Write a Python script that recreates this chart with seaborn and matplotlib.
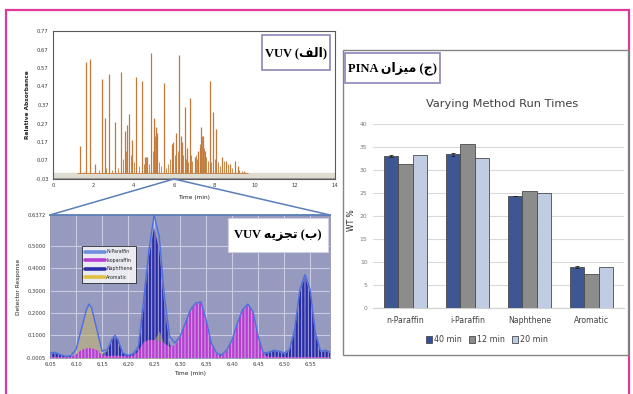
import numpy as np
import pandas as pd
import seaborn as sns
import matplotlib
matplotlib.use("Agg")
import matplotlib.pyplot as plt
from matplotlib.patches import Rectangle, ConnectionPatch
from matplotlib.lines import Line2D

sns.set_style("white")
plt.rcParams["font.family"] = ["DejaVu Sans"]
plt.rcParams["hatch.linewidth"] = 0.7

# ---------------- Panel A: VUV chromatogram (peak apex times / heights) ----
peak_time = [1.32, 1.66, 1.82, 2.10, 2.43, 2.57, 2.78, 3.10, 3.39, 3.56, 3.66,
             3.77, 3.92, 4.12, 4.42, 4.57, 4.69, 4.88, 5.01, 5.10, 5.18, 5.50,
             5.89, 5.98, 6.13, 6.26, 6.33, 6.42, 6.54, 6.66, 6.79, 7.04, 7.20,
             7.28, 7.37, 7.47, 7.57, 7.78, 7.96, 8.11, 8.41, 8.61, 8.77, 9.04,
             9.17, 9.50]
peak_height = [0.15, 0.60, 0.62, 0.05, 0.51, 0.30, 0.54, 0.28, 0.55, 0.23, 0.26,
               0.32, 0.18, 0.52, 0.50, 0.09, 0.09, 0.65, 0.30, 0.25, 0.22, 0.49,
               0.16, 0.17, 0.22, 0.64, 0.20, 0.17, 0.36, 0.14, 0.41, 0.09, 0.12,
               0.14, 0.25, 0.20, 0.12, 0.50, 0.33, 0.24, 0.09, 0.07, 0.05, 0.07,
               0.04, 0.015]
minor_time = [1.55, 2.30, 2.65, 2.95, 3.25, 3.48, 3.62, 3.85, 4.02, 4.25, 4.52,
              4.62, 4.75, 4.95, 5.05, 5.25, 5.35, 5.62, 5.72, 5.80, 5.93, 6.05,
              6.20, 6.38, 6.47, 6.60, 6.72, 6.85, 6.92, 7.10, 7.15, 7.32, 7.42,
              7.52, 7.62, 7.70, 7.85, 8.02, 8.20, 8.30, 8.50, 8.70, 8.90, 9.25,
              9.40]
minor_height = [0.01, 0.02, 0.03, 0.02, 0.03, 0.08, 0.12, 0.10, 0.06, 0.04, 0.05,
                0.09, 0.05, 0.12, 0.20, 0.06, 0.04, 0.03, 0.05, 0.08, 0.12, 0.10,
                0.12, 0.14, 0.10, 0.08, 0.06, 0.10, 0.07, 0.10, 0.08, 0.16, 0.20,
                0.14, 0.09, 0.07, 0.06, 0.08, 0.06, 0.04, 0.07, 0.05, 0.03, 0.02,
                0.015]
a_yticks = [-0.03, 0.07, 0.17, 0.27, 0.37, 0.47, 0.57, 0.67, 0.77]
a_xticks = [0, 2, 4, 6, 8, 10, 12, 14]

# ---------------- Panel B: deconvolution (envelope + components) ----------
b_time = [6.050, 6.060, 6.070, 6.080, 6.090, 6.100, 6.110, 6.120, 6.125, 6.130,
          6.140, 6.150, 6.160, 6.170, 6.175, 6.180, 6.190, 6.200, 6.210, 6.220,
          6.230, 6.240, 6.250, 6.260, 6.270, 6.280, 6.290, 6.300, 6.310, 6.320,
          6.330, 6.340, 6.350, 6.360, 6.370, 6.380, 6.390, 6.400, 6.410, 6.420,
          6.430, 6.440, 6.450, 6.460, 6.470, 6.480, 6.490, 6.500, 6.510, 6.520,
          6.530, 6.540, 6.550, 6.560, 6.570, 6.580, 6.588]
b_envelope = [0.022, 0.025, 0.014, 0.007, 0.010, 0.037, 0.126, 0.215, 0.240, 0.222,
              0.126, 0.030, 0.037, 0.088, 0.100, 0.084, 0.022, 0.011, 0.019, 0.051,
              0.260, 0.480, 0.637, 0.540, 0.270, 0.096, 0.066, 0.096, 0.155, 0.215,
              0.245, 0.250, 0.170, 0.066, 0.022, 0.013, 0.037, 0.081, 0.155, 0.215,
              0.240, 0.207, 0.096, 0.022, 0.025, 0.034, 0.030, 0.022, 0.037, 0.126,
              0.304, 0.372, 0.304, 0.111, 0.030, 0.034, 0.025]
b_naphthene = [0.018, 0.020, 0.012, 0.006, 0.008, 0.010, 0.010, 0.010, 0.010, 0.010,
               0.010, 0.015, 0.030, 0.080, 0.095, 0.078, 0.018, 0.010, 0.015, 0.040,
               0.220, 0.450, 0.580, 0.480, 0.220, 0.060, 0.020, 0.020, 0.020, 0.020,
               0.020, 0.020, 0.020, 0.020, 0.015, 0.010, 0.015, 0.020, 0.020, 0.020,
               0.020, 0.020, 0.020, 0.018, 0.022, 0.030, 0.026, 0.018, 0.030, 0.110,
               0.290, 0.360, 0.290, 0.100, 0.026, 0.030, 0.022]
b_isoparaffin = [0.004, 0.004, 0.004, 0.003, 0.004, 0.015, 0.035, 0.042, 0.044, 0.042,
                 0.035, 0.012, 0.008, 0.010, 0.010, 0.010, 0.008, 0.006, 0.010, 0.030,
                 0.070, 0.080, 0.080, 0.075, 0.065, 0.050, 0.055, 0.090, 0.150, 0.210,
                 0.240, 0.245, 0.165, 0.060, 0.015, 0.008, 0.030, 0.075, 0.150, 0.210,
                 0.235, 0.200, 0.090, 0.015, 0.005, 0.005, 0.005, 0.004, 0.004, 0.004,
                 0.004, 0.004, 0.004, 0.004, 0.004, 0.004, 0.004]
b_aromatic = [0.000, 0.000, 0.000, 0.000, 0.000, 0.030, 0.120, 0.210, 0.235, 0.220,
              0.120, 0.020, 0.000, 0.000, 0.000, 0.000, 0.000, 0.000, 0.000, 0.000,
              0.010, 0.040, 0.080, 0.120, 0.050, 0.010, 0.000, 0.000, 0.000, 0.000,
              0.000, 0.000, 0.000, 0.000, 0.000, 0.000, 0.000, 0.000, 0.000, 0.000,
              0.000, 0.000, 0.000, 0.000, 0.000, 0.000, 0.000, 0.000, 0.000, 0.000,
              0.000, 0.000, 0.000, 0.000, 0.000, 0.000, 0.000]
b_yticks = [-0.0005, 0.1, 0.2, 0.3, 0.4, 0.5, 0.6372]
b_ytick_labels = ["-0.0005", "0.1000", "0.2000", "0.3000", "0.4000", "0.5000", "0.6372"]
b_xticks = [6.05, 6.10, 6.15, 6.20, 6.25, 6.30, 6.35, 6.40, 6.45, 6.50, 6.55]
b_legend = ["N-Paraffin", "Isoparaffin", "Naphthene", "Aromatic"]

# ---------------- Panel C: PINA by run time --------------------------------
components = ["n-Paraffin", "i-Paraffin", "Naphthene", "Aromatic"]
runs = ["40 min", "12 min", "20 min"]
wt_40 = [33.1, 33.4, 24.4, 8.9]
wt_12 = [31.4, 35.6, 25.4, 7.3]
wt_20 = [33.2, 32.7, 25.0, 9.0]
err_40 = [0.25, 0.3, 0.0, 0.2]

# ---------------- Persian labels (logical order) ---------------------------
label_a = ("VUV", "الف")
label_b = ("VUV", "تجزیه", "ب")
label_c = ("PINA", "میزان", "ج")

FORMS = {  # isolated, final, initial, medial
    "ا": ("\uFE8D", "\uFE8E", None, None),
    "ل": ("\uFEDD", "\uFEDE", "\uFEDF", "\uFEE0"),
    "ف": ("\uFED1", "\uFED2", "\uFED3", "\uFED4"),
    "ب": ("\uFE8F", "\uFE90", "\uFE91", "\uFE92"),
    "ت": ("\uFE95", "\uFE96", "\uFE97", "\uFE98"),
    "ج": ("\uFE9D", "\uFE9E", "\uFE9F", "\uFEA0"),
    "ز": ("\uFEAF", "\uFEB0", None, None),
    "ی": ("\uFEF1", "\uFEF2", "\uFEF3", "\uFEF4"),
    "ه": ("\uFEE9", "\uFEEA", "\uFEEB", "\uFEEC"),
    "م": ("\uFEE1", "\uFEE2", "\uFEE3", "\uFEE4"),
    "ن": ("\uFEE5", "\uFEE6", "\uFEE7", "\uFEE8"),
}


def shape(word):
    """Contextual forms + visual (right-to-left) ordering for display."""
    out = []
    n = len(word)
    for i, ch in enumerate(word):
        f = FORMS[ch]
        prev_j = i > 0 and FORMS[word[i - 1]][2] is not None
        next_j = i < n - 1 and f[2] is not None
        if prev_j and next_j:
            g = f[3]
        elif prev_j:
            g = f[1]
        elif next_j:
            g = f[2]
        else:
            g = f[0]
        out.append(g)
    return "".join(reversed(out))


W, H = 633, 394


def px(l, t, r, b):
    return [l / W, 1 - b / H, (r - l) / W, (b - t) / H]


fig = plt.figure(figsize=(W / 100, H / 100), dpi=100)
fig.patch.set_facecolor("white")

serif_fam = ["Liberation Serif", "DejaVu Sans"]
tick_col = "#3a3a3a"


def label_box(l, t, r, b, text, edge, lw):
    fig.add_artist(Rectangle((l / W, 1 - b / H), (r - l) / W, (b - t) / H,
                             transform=fig.transFigure, facecolor="white",
                             edgecolor=edge, lw=lw, zorder=5))
    fig.text((l + r) / 2 / W, 1 - (t + b) / 2 / H, text, ha="center",
             va="center", fontsize=9, fontweight="bold", family=serif_fam,
             color="black", zorder=6)


# pink outer frame
fig.add_artist(Rectangle((6 / W, -0.05), (629 - 6) / W, 1.05 - 10 / H,
                         transform=fig.transFigure, fill=False,
                         edgecolor="#e0379c", lw=1.6, zorder=0))

# panel C frame
fig.add_artist(Rectangle((343 / W, 1 - 355 / H), (628 - 343) / W, (355 - 50) / H,
                         transform=fig.transFigure, facecolor="white",
                         edgecolor="#858585", lw=1.0, zorder=0))

# ================= Panel A =================
axA = fig.add_axes(px(53, 31, 335, 179))
axA.set_facecolor("white")
axA.axhspan(-0.03, -0.018, color="#8f8f8f", zorder=1)
axA.axhspan(-0.018, 0.005, color="#dedbd0", zorder=1)
axA.hlines(0.002, 1.2, 9.7, color="#c47a3a", lw=0.6, zorder=2)
axA.vlines(minor_time, 0.0, minor_height, color="#c98a4e", lw=0.7, zorder=2)
axA.vlines(peak_time, 0.0, peak_height, color="#c4783a", lw=0.9, zorder=3)
axA.set_xlim(0, 14)
axA.set_ylim(-0.03, 0.77)
axA.set_xticks(a_xticks)
axA.set_xticklabels([str(v) for v in a_xticks])
axA.set_yticks(a_yticks)
axA.set_yticklabels([f"{v:.2f}" for v in a_yticks])
axA.tick_params(labelsize=3.8, colors=tick_col, length=1.5, width=0.5, pad=1.5)
for s in axA.spines.values():
    s.set_color("#5a5a5a")
    s.set_linewidth(0.8)
axA.set_xlabel("Time (min)", fontsize=4.2, labelpad=5, color="#222222")
axA.set_ylabel("Relative Absorbance", fontsize=4.2, labelpad=4, color="#222222",
               fontweight="bold")
label_box(262, 35, 330, 70, f"{label_a[0]} (" + shape(label_a[1]) + ")",
          "#8a88b8", 1.2)

# ================= Panel B =================
axB = fig.add_axes(px(50, 215, 330, 358))
axB.set_facecolor("#979abf")
axB.set_xlim(6.05, 6.588)
axB.set_ylim(-0.0005, 0.6372)
for xv in b_xticks:
    axB.axvline(xv, color="#c9cbe2", lw=0.8, zorder=0)
for yv in b_yticks[1:-1]:
    axB.axhline(yv, color="#c9cbe2", lw=0.8, zorder=0)

c_npar = "#6e8fdc"
c_iso = "#b43fd0"
c_naph = "#2b2da8"
c_arom = "#c8b46e"

axB.fill_between(b_time, -0.0005, b_naphthene, facecolor=c_naph,
                 edgecolor="#a6a8d8", hatch="|||||", lw=0, zorder=2)
axB.fill_between(b_time, -0.0005, b_aromatic, facecolor=c_arom, alpha=0.55,
                 lw=0, zorder=3)
axB.fill_between(b_time, -0.0005, b_isoparaffin, facecolor=c_iso,
                 edgecolor="#d6a2e6", hatch="|||||", lw=0, zorder=4)
sns.lineplot(x=b_time, y=b_envelope, ax=axB, color="#4d6fe0", lw=1.0,
             zorder=5, estimator=None)
axB.set_xticks(b_xticks)
axB.set_xticklabels([f"{v:.2f}" for v in b_xticks])
axB.set_yticks(b_yticks)
axB.set_yticklabels(b_ytick_labels)
axB.tick_params(labelsize=3.8, colors=tick_col, length=1.5, width=0.5, pad=1.5)
for k, s in axB.spines.items():
    s.set_color("#8a8cb0")
    s.set_linewidth(0.6)
axB.spines["top"].set_color("#5b7fb8")
axB.spines["top"].set_linewidth(1.3)
axB.set_xlabel("Time (min)", fontsize=4.2, labelpad=3, color="#222222")
axB.set_ylabel("Detector Response", fontsize=4.2, labelpad=3, color="#222222")
handles = [Line2D([0], [0], color=c, lw=2.6) for c in
           [c_npar, c_iso, c_naph, "#e0c040"]]
legB = axB.legend(handles, b_legend, loc="upper left",
                  bbox_to_anchor=(0.105, 0.80), fontsize=3.4, frameon=True,
                  fancybox=False, handlelength=4.2, handletextpad=0.3,
                  labelspacing=0.75, borderpad=0.7)
legB.get_frame().set_edgecolor("black")
legB.get_frame().set_linewidth(0.6)
legB.get_frame().set_facecolor("white")
label_box(228, 218, 328, 252,
          "VUV " + shape(label_b[1]) + " (" + shape(label_b[2]) + ")",
          "#d0d0e0", 0.8)

# connectors from panel A (6 min) to panel B
for xb in (6.05, 6.588):
    con = ConnectionPatch(xyA=(6.0, -0.03), coordsA=axA.transData,
                          xyB=(xb, 0.6372), coordsB=axB.transData,
                          color="#5b7fb8", lw=1.1)
    fig.add_artist(con)

# ================= Panel C =================
axC = fig.add_axes(px(373, 124, 624, 308))
axC.set_facecolor("none")
df = pd.DataFrame({
    "component": components * 3,
    "run": [runs[0]] * 4 + [runs[1]] * 4 + [runs[2]] * 4,
    "wt": wt_40 + wt_12 + wt_20,
})
palette = {"40 min": "#30509f", "12 min": "#8c8c8c", "20 min": "#b9cbe7"}
sns.barplot(data=df, x="component", y="wt", hue="run", order=components,
            hue_order=runs, palette=palette, width=0.68, edgecolor="#4a4a4a",
            linewidth=0.6, ax=axC, legend=False, errorbar=None, zorder=3)
bars40 = axC.containers[0]
xs = [p.get_x() + p.get_width() / 2 for p in bars40]
axC.errorbar(xs, wt_40, yerr=err_40, fmt="none", ecolor="#222222",
             elinewidth=0.6, capsize=1.5, capthick=0.6, zorder=4)
axC.set_ylim(0, 40)
axC.set_yticks(range(0, 41, 5))
axC.set_yticklabels([str(v) for v in range(0, 41, 5)])
axC.grid(axis="y", color="#d9d9d9", lw=0.8, zorder=0)
axC.set_axisbelow(True)
axC.tick_params(axis="y", labelsize=4.3, colors="#7a7a7a", length=0, pad=4)
axC.tick_params(axis="x", labelsize=5.6, colors="#404040", length=0, pad=6)
for k, s in axC.spines.items():
    s.set_visible(False)
axC.spines["bottom"].set_visible(True)
axC.spines["bottom"].set_color("#d0d0d0")
axC.set_xlabel("")
axC.set_ylabel("")
fig.text(352 / W, 1 - 220 / H, "WT %", rotation=90, ha="center", va="center",
         fontsize=5.5, color="#222222")
fig.text(502 / W, 1 - 104 / H, "Varying Method Run Times", ha="center",
         va="center", fontsize=8.2, color="#404040")
legC_handles = [Rectangle((0, 0), 1, 1, facecolor=palette[r], edgecolor="#4a4a4a",
                          lw=0.6) for r in runs]
fig.legend(legC_handles, runs, loc="center", bbox_to_anchor=(487 / W, 1 - 340 / H),
           ncol=3, frameon=False, fontsize=5.8, handlelength=0.75,
           handleheight=0.9, handletextpad=0.25, columnspacing=0.9,
           labelcolor="#404040")
label_box(345, 53, 440, 83,
          "PINA " + shape(label_c[1]) + " (" + shape(label_c[2]) + ")",
          "#8a88b8", 1.2)

fig.savefig("out.png", dpi=100)
